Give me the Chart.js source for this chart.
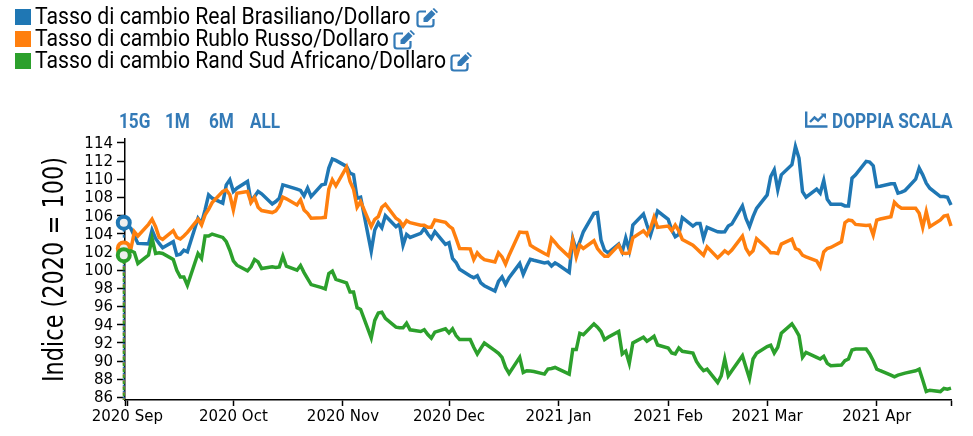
<!DOCTYPE html>
<html>
<head>
<meta charset="utf-8">
<script src="https://cdn.jsdelivr.net/npm/chart.js@4"></script>
<style>
    body { margin: 0; background: #fff; overflow: hidden; }
    #wrap { position: relative; width: 973px; height: 436px; }
    canvas { position: absolute; left: 0; top: 0; }
    .swatch { position: absolute; left: 15px; width: 16px; height: 16px; }
    .leg { position: absolute; left: 35px; font: 23px Roboto, sans-serif; color: #000; line-height: 22px; white-space: nowrap; transform-origin: left center; transform: scaleX(0.922); }
    .btn { position: absolute; top: 110px; font: bold 21px Roboto, sans-serif; line-height: 22px; color: #337ab7; white-space: nowrap; transform-origin: left center; transform: scaleX(0.818); }
    svg { position: absolute; }
</style>
</head>
<body>
<div id="wrap">
    <canvas id="chart" width="973" height="436"></canvas>
    <div id="legend"></div>
    <div class="btn" style="left:119px">15G</div>
    <div class="btn" style="left:165px">1M</div>
    <div class="btn" style="left:209px">6M</div>
    <div class="btn" style="left:250px">ALL</div>
    <svg style="left:805px;top:111px" width="23" height="17" viewBox="0 0 23 17">
        <path d="M1.2 0.5V15.5H22.5" fill="none" stroke="#337ab7" stroke-width="2.4"/>
        <path d="M5 11L9.5 6.5L13 9.5L18 4.5" fill="none" stroke="#337ab7" stroke-width="2.4"/>
        <path d="M15.5 2.5H21V8z" fill="#337ab7"/>
    </svg>
    <div class="btn" style="left:832px">DOPPIA SCALA</div>
</div>
<script>
const dates = [
    '2020-08-31',
    '2020-09-01','2020-09-02','2020-09-03','2020-09-04','2020-09-07','2020-09-08','2020-09-09','2020-09-10','2020-09-11',
    '2020-09-14','2020-09-15','2020-09-16','2020-09-17','2020-09-18','2020-09-21','2020-09-22','2020-09-23','2020-09-24','2020-09-25',
    '2020-09-28','2020-09-29','2020-09-30',
    '2020-10-01','2020-10-02','2020-10-05','2020-10-06','2020-10-07','2020-10-08','2020-10-09','2020-10-12','2020-10-13','2020-10-14','2020-10-15','2020-10-16',
    '2020-10-19','2020-10-20','2020-10-21','2020-10-22','2020-10-23','2020-10-26','2020-10-27','2020-10-28','2020-10-29','2020-10-30',
    '2020-11-02','2020-11-03','2020-11-04','2020-11-05','2020-11-06','2020-11-09','2020-11-10','2020-11-11','2020-11-12','2020-11-13',
    '2020-11-16','2020-11-17','2020-11-18','2020-11-19','2020-11-20','2020-11-23','2020-11-24','2020-11-25','2020-11-26','2020-11-27','2020-11-30',
    '2020-12-01','2020-12-02','2020-12-03','2020-12-04','2020-12-07','2020-12-08','2020-12-09','2020-12-10','2020-12-11',
    '2020-12-14','2020-12-15','2020-12-16','2020-12-17','2020-12-18','2020-12-21','2020-12-22','2020-12-23','2020-12-24','2020-12-25',
    '2020-12-28','2020-12-29','2020-12-30','2020-12-31',
    '2021-01-01','2021-01-04','2021-01-05','2021-01-06','2021-01-07','2021-01-08','2021-01-11','2021-01-12','2021-01-13','2021-01-14','2021-01-15',
    '2021-01-18','2021-01-19','2021-01-20','2021-01-21','2021-01-22','2021-01-25','2021-01-26','2021-01-27','2021-01-28','2021-01-29',
    '2021-02-01','2021-02-02','2021-02-03','2021-02-04','2021-02-05','2021-02-08','2021-02-09','2021-02-10','2021-02-11','2021-02-12',
    '2021-02-15','2021-02-16','2021-02-17','2021-02-18','2021-02-19','2021-02-22','2021-02-23','2021-02-24','2021-02-25','2021-02-26',
    '2021-03-01','2021-03-02','2021-03-03','2021-03-04','2021-03-05','2021-03-08','2021-03-09','2021-03-10','2021-03-11','2021-03-12',
    '2021-03-15','2021-03-16','2021-03-17','2021-03-18','2021-03-19','2021-03-22','2021-03-23','2021-03-24','2021-03-25','2021-03-26',
    '2021-03-29','2021-03-30','2021-03-31',
    '2021-04-01','2021-04-02','2021-04-05','2021-04-06','2021-04-07','2021-04-08','2021-04-09','2021-04-12','2021-04-13','2021-04-14','2021-04-15','2021-04-16',
    '2021-04-19','2021-04-20','2021-04-21','2021-04-22'
];

const realBrasiliano = [
    105.23,
    104.97,104.6,103.76,102.95,102.9,104.42,103.5,102.95,102.47,103.13,101.66,101.77,102.2,102.03,105.71,105.16,106.63,108.29,107.92,107.37,109.39,109.95,
    108.66,109.02,109.76,107.55,108.1,108.66,108.4,107.29,107.55,107.92,109.39,109.28,108.91,108.77,108.18,109.03,108.1,109.39,109.47,111.23,112.23,112.08,
    111.42,110.68,110.5,107.92,108.03,102.1,104.42,105.23,104.68,106.0,104.79,105.08,102.76,103.94,103.61,104.05,104.6,103.98,103.5,104.24,102.84,
    103.02,101.29,100.85,100.1,99.37,99.18,99.4,98.6,98.3,97.71,98.78,99.26,98.45,99.18,100.73,99.55,100.44,101.21,101.1,100.81,100.88,100.47,100.81,
    100.58,99.77,103.49,102.2,103.13,104.23,106.26,106.33,103.31,102.2,101.91,102.87,102.02,103.55,102.21,104.97,106.18,104.97,103.86,105.15,106.51,
    105.59,104.42,103.68,103.94,105.78,104.86,105.15,105.15,103.5,104.71,104.23,104.2,104.23,104.86,105.08,107.07,105.7,104.78,105.89,106.81,
    108.28,110.31,111.05,108.84,110.49,111.6,113.6,112.33,108.65,108.03,108.91,108.47,109.87,107.8,107.25,107.25,107.07,107.07,110.12,110.49,111.97,111.89,111.49,
    109.2,109.24,109.5,109.5,108.47,108.58,108.76,110.01,111.23,110.49,109.57,109.02,108.1,108.1,108.03,107.18
];

const rubloRusso = [
    102.39,
    102.76,102.3,104.24,103.76,105.05,105.6,104.79,103.61,103.39,104.35,103.61,103.43,103.76,104.16,105.6,104.97,106.08,106.7,107.44,108.66,108.84,108.29,
    106.63,108.47,108.66,107.44,108,106.93,106.56,106.34,106.52,107.07,108.03,107.85,107.18,107.74,106.63,106.26,105.71,105.78,105.82,108.91,109.95,109.28,
    111.34,109.76,108.91,106.93,107.55,104.8,105.6,105.9,106.93,107.26,105.71,105.45,104.86,105.45,105.23,104.94,104.94,104.72,104.72,105.53,105.27,
    104.86,104.57,103.5,102.39,102.35,101.17,101.91,101.47,101.17,100.92,101.91,101.47,100.66,101.65,104.19,104.16,104.16,102.76,102.5,101.84,101.65,103.49,103.05,
    102.57,101.47,103.31,101.47,102.76,102.39,103.24,102.39,101.91,101.54,101.54,102.76,101.91,101.84,101.91,103.57,104.34,103.86,104.6,105.82,104.71,
    104.86,104.34,104.97,104.34,103.38,102.76,102.39,102.02,101.65,102.57,101.36,101.73,102.13,101.84,102.21,103.75,102.39,101.76,102.13,103.46,
    102.39,101.91,101.91,101.84,102.87,103.42,102.39,102.21,101.65,101.47,101.03,100.36,102.02,102.39,102.5,103.13,105.23,105.52,105.45,105.04,104.93,104.97,103.86,
    105.52,105.63,105.89,107.47,107.07,106.81,106.81,106.81,106.26,104.71,106.44,104.78,105.52,105.96,106.04,104.86
];

const randSudAfricano = [
    101.66,
    102.03,102.14,101.95,100.74,101.66,103.5,101.84,101.92,101.84,101.18,100,99.26,99.26,98.34,101.84,101.29,103.76,103.76,103.98,103.61,103.13,102.2,
    101.03,100.55,99.93,100.37,101.18,100.92,100.19,100.37,100.3,100.37,101.55,100.44,100,100.52,99.74,99.08,98.42,98.09,97.94,99.63,99.89,99.0,
    98.6,97.6,97.6,95.88,95.69,92.55,94.48,95.3,95.38,94.7,93.74,93.67,93.67,94.18,93.45,93.26,93.45,92.93,92.53,93.19,93.56,
    93.11,93.56,92.82,92.37,92.37,91.52,90.79,91.41,92,91.16,90.86,90.42,89.31,88.65,90.42,88.76,88.95,88.91,88.87,88.58,89.13,89.2,89.31,
    89.13,88.58,91.27,91.27,93.07,92.92,94.1,93.73,93.26,92.37,92.63,93.26,90.79,91.1,89.76,92.0,92.63,92.19,92.45,92.74,91.78,
    91.45,90.9,90.79,91.45,91.08,90.9,89.98,89.39,88.95,89.13,87.66,88.39,90.24,88.39,88.95,90.6,89.32,88.1,90.24,90.86,
    91.6,91.75,90.9,91.53,93.07,94.1,93.5,92.81,90.42,90.97,90.42,90.24,90.53,89.76,89.5,89.57,90.05,90.24,91.23,91.34,91.34,90.79,90.05,
    89.13,88.95,88.47,88.28,88.47,88.58,88.69,88.95,89.13,87.92,86.66,86.81,86.66,87,86.92,87.03
];

const seriesNames = [
    'Tasso di cambio Real Brasiliano/Dollaro',
    'Tasso di cambio Rublo Russo/Dollaro',
    'Tasso di cambio Rand Sud Africano/Dollaro'
];
const seriesValues = [realBrasiliano, rubloRusso, randSudAfricano];
const seriesColors = ['#1f77b4', '#ff7f0e', '#2ca02c'];

const yTicks = [86,88,90,92,94,96,98,100,102,104,106,108,110,112,114];
const xTickDates = ['2020-09-01','2020-10-01','2020-11-01','2020-12-01','2021-01-01','2021-02-01','2021-03-01','2021-04-01','2021-04-22'];
const xTickLabels = ['2020 Sep','2020 Oct','2020 Nov','2020 Dec','2021 Jan','2021 Feb','2021 Mar','2021 Apr',''];
const yTitle = 'Indice (2020 = 100)';

const iconColor = '#337ab7';
const iconLeft = [416, 393, 450];

// legend is plain html like the original page
const legend = document.getElementById('legend');
seriesNames.forEach((name, i) => {
    const top = 9 + i * 21.8;
    legend.innerHTML += `
        <div class="swatch" style="top:${top}px;background:${seriesColors[i]}"></div>
        <div class="leg" style="top:${top - 3}px">${name}</div>
        <svg style="left:${iconLeft[i]}px;top:${top - 1}px" width="22" height="20" viewBox="0 0 22 20">
            <path d="M10 3.5H4a2.5 2.5 0 0 0-2.5 2.5v10A2.5 2.5 0 0 0 4 18.5h11a2.5 2.5 0 0 0 2.5-2.5v-5" fill="none" stroke="${iconColor}" stroke-width="2.2"/>
            <path d="M7.5 10L15.5 2l4 4-8 8H7.5z M16.5 1L18 0l4 4-1.2 1.3z" fill="${iconColor}"/>
        </svg>`;
});

const toTime = d => Date.parse(d + 'T00:00:00Z');
const DAY = 86400000;
const xMin = toTime('2020-08-31') + 0.35 * DAY;

// dashed drop line under each start marker
const dropLines = {
    id: 'dropLines',
    beforeDatasetsDraw(chart) {
        const ctx = chart.ctx;
        const x = chart.scales.x;
        const y = chart.scales.y;
        ctx.save();
        ctx.lineWidth = 2;
        ctx.setLineDash([3, 3]);
        seriesValues.forEach((vals, i) => {
            ctx.strokeStyle = seriesColors[i];
            ctx.beginPath();
            ctx.moveTo(x.getPixelForValue(toTime(dates[0])), y.getPixelForValue(vals[0]));
            ctx.lineTo(x.getPixelForValue(toTime(dates[0])), y.bottom);
            ctx.stroke();
        });
        ctx.restore();
    }
};

// the axis title is squeezed in the original, chart.js titles can't do that
const squeezedTitle = {
    id: 'squeezedTitle',
    afterDraw(chart) {
        const ctx = chart.ctx;
        ctx.save();
        ctx.translate(63.3, 269.5);
        ctx.rotate(-Math.PI / 2);
        ctx.scale(0.79, 1);
        ctx.font = '28.4px "DejaVu Sans"';
        ctx.fillStyle = '#000';
        ctx.textAlign = 'center';
        ctx.textBaseline = 'alphabetic';
        ctx.fillText(yTitle, 0, 0);
        ctx.restore();
    }
};

new Chart(document.getElementById('chart').getContext('2d'), {
    type: 'line',
    plugins: [dropLines, squeezedTitle],
    data: {
        datasets: seriesValues.map((vals, i) => ({
            label: seriesNames[i],
            data: vals.map((v, j) => ({ x: toTime(dates[j]), y: v })),
            borderColor: seriesColors[i],
            backgroundColor: '#eee',
            borderWidth: 3.5,
            tension: 0,
            clip: false,
            order: 3 - i,
            pointRadius: c => c.dataIndex === 0 ? 6 : 0,
            pointBorderWidth: 4,
            pointBorderColor: seriesColors[i],
            pointBackgroundColor: '#eee'
        }))
    },
    options: {
        responsive: false,
        animation: false,
        layout: { padding: { top: 139, right: 22, bottom: 0, left: 0 } },
        plugins: { legend: { display: false }, tooltip: { enabled: false } },
        scales: {
            x: {
                type: 'linear',
                min: xMin,
                max: toTime('2021-04-22'),
                afterFit: s => { s.height = 36; },
                afterBuildTicks: s => { s.ticks = [{ value: xMin }].concat(xTickDates.map(d => ({ value: toTime(d) }))); },
                grid: { drawOnChartArea: false, tickLength: 6, tickColor: '#000', tickWidth: 1.5 },
                border: { color: '#000', width: 1.5 },
                ticks: {
                    autoSkip: false,
                    maxRotation: 0,
                    padding: 2,
                    color: '#000',
                    font: { family: 'DejaVu Sans', size: 15 },
                    callback: v => xTickLabels[xTickDates.findIndex(d => toTime(d) === v)] || ''
                }
            },
            y: {
                min: 85.73,
                max: 114.43,
                afterFit: s => { s.width = 125; },
                afterBuildTicks: s => { s.ticks = yTicks.map(v => ({ value: v })); },
                grid: { drawOnChartArea: false, tickLength: 8, tickColor: '#000', tickWidth: 1.5 },
                border: { color: '#000', width: 1.5 },
                ticks: {
                    autoSkip: false,
                    padding: 4,
                    labelOffset: 1,
                    color: '#000',
                    font: { family: 'DejaVu Sans', size: 15 },
                    callback: v => v
                }
            }
        }
    }
});
</script>
</body>
</html>
